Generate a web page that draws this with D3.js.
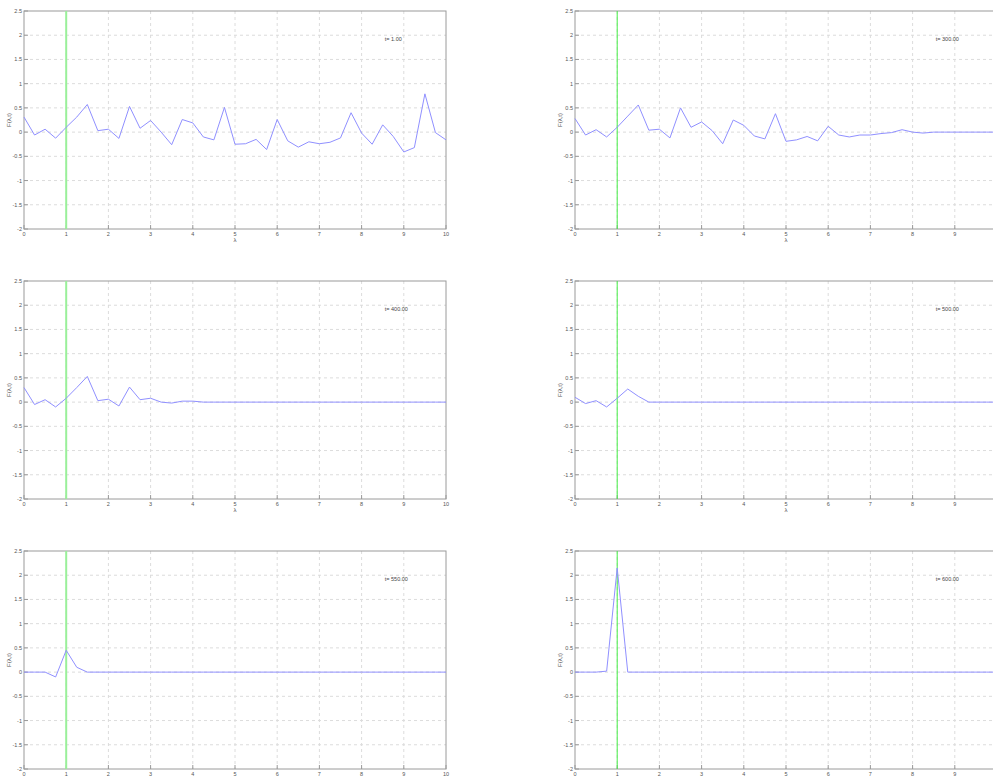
<!DOCTYPE html>
<html>
<head>
<meta charset="utf-8">
<script src="https://cdn.jsdelivr.net/npm/d3@7"></script>
<style>
  body { margin: 0; background: #fff; }
  svg { display: block; }
  text { font-family: "Liberation Sans", Arial, sans-serif; fill: #555; }
</style>
</head>
<body>
<div id="chart"></div>
<script>
var width = 993;
var height = 776;

// lambda grid of the solution (step 0.25)
const lambdas = [0, 0.25, 0.5, 0.75, 1, 1.25, 1.5, 1.75, 2, 2.25, 2.5, 2.75, 3, 3.25, 3.5, 3.75, 4, 4.25, 4.5, 4.75,
    5, 5.25, 5.5, 5.75, 6, 6.25, 6.5, 6.75, 7, 7.25, 7.5, 7.75, 8, 8.25, 8.5, 8.75, 9, 9.25, 9.5, 9.75, 10];

// F(lambda, t)
const f1 = [0.31, -0.06, 0.06, -0.125, 0.10, 0.31, 0.57, 0.03, 0.06, -0.13, 0.53, 0.08, 0.24, 0.0, -0.26, 0.26, 0.19, -0.10, -0.16, 0.51,
    -0.25, -0.24, -0.15, -0.36, 0.26, -0.18, -0.31, -0.20, -0.24, -0.21, -0.12, 0.40, -0.02, -0.25, 0.15, -0.09, -0.41, -0.32, 0.79, -0.01, -0.16];
const f300 = [0.28, -0.06, 0.05, -0.10, 0.10, 0.33, 0.56, 0.04, 0.06, -0.12, 0.50, 0.10, 0.21, 0.03, -0.24, 0.25, 0.14, -0.08, -0.14, 0.38,
    -0.19, -0.16, -0.09, -0.18, 0.12, -0.06, -0.10, -0.06, -0.06, -0.03, -0.01, 0.05, 0.0, -0.02, 0, 0, 0, 0, 0, 0, 0];
const f400 = [0.30, -0.05, 0.05, -0.10, 0.08, 0.30, 0.53, 0.03, 0.06, -0.08, 0.31, 0.05, 0.08, 0.0, -0.02, 0.02, 0.02, 0, 0, 0,
    0, 0, 0, 0, 0, 0, 0, 0, 0, 0, 0, 0, 0, 0, 0, 0, 0, 0, 0, 0, 0];
const f500 = [0.10, -0.03, 0.03, -0.10, 0.08, 0.27, 0.12, 0.0, 0, 0, 0, 0, 0, 0, 0, 0, 0, 0, 0, 0,
    0, 0, 0, 0, 0, 0, 0, 0, 0, 0, 0, 0, 0, 0, 0, 0, 0, 0, 0, 0, 0];
const f550 = [0, 0, 0, -0.10, 0.45, 0.10, 0, 0, 0, 0, 0, 0, 0, 0, 0, 0, 0, 0, 0, 0,
    0, 0, 0, 0, 0, 0, 0, 0, 0, 0, 0, 0, 0, 0, 0, 0, 0, 0, 0, 0, 0];
const f600 = [0, 0, 0, 0.02, 2.15, 0, 0, 0, 0, 0, 0, 0, 0, 0, 0, 0, 0, 0, 0, 0,
    0, 0, 0, 0, 0, 0, 0, 0, 0, 0, 0, 0, 0, 0, 0, 0, 0, 0, 0, 0, 0];

const timeLabels = ["t= 1.00", "t= 300.00", "t= 400.00", "t= 500.00", "t= 550.00", "t= 600.00"];
const xTicks = [0, 1, 2, 3, 4, 5, 6, 7, 8, 9, 10];
const yTicks = [2.5, 2, 1.5, 1, 0.5, 0, -0.5, -1, -1.5, -2];
const markerX = 1;   // green vertical line

var series = [f1, f300, f400, f500, f550, f600];

var svg = d3.select("#chart").append("svg")
    .attr("width", width)
    .attr("height", height);

// panel boxes: left column 24..446, right column 575..998 (cut by the window)
var colLeft = [24, 575];
var plotW = 422;
var rowTop = [11, 281, 551];
var plotH = 218;

series.forEach(function (vals, i) {
    var col = i % 2, row = Math.floor(i / 2);
    var left = colLeft[col], top = rowTop[row];

    var x = d3.scaleLinear().domain([0, 10]).range([0, plotW]);
    var y = d3.scaleLinear().domain([-2, 2.5]).range([plotH, 0]);

    var g = svg.append("g").attr("transform", "translate(" + left + "," + top + ")");

    // dashed grid
    g.selectAll(".vgrid").data(xTicks.slice(1, -1)).enter().append("line")
        .attr("x1", d => x(d)).attr("x2", d => x(d))
        .attr("y1", 0).attr("y2", plotH)
        .attr("stroke", "#dcdcdc").attr("stroke-width", 1)
        .attr("stroke-dasharray", "3,3");
    g.selectAll(".hgrid").data(yTicks.slice(1, -1)).enter().append("line")
        .attr("x1", 0).attr("x2", plotW)
        .attr("y1", d => y(d)).attr("y2", d => y(d))
        .attr("stroke", "#dcdcdc").attr("stroke-width", 1)
        .attr("stroke-dasharray", "3,3");

    // axes box
    g.append("rect")
        .attr("x", 0).attr("y", 0)
        .attr("width", plotW).attr("height", plotH)
        .attr("fill", "none").attr("stroke", "#9a9a9a").attr("stroke-width", 1);

    // inward ticks
    g.selectAll(".xt").data(xTicks).enter().append("line")
        .attr("x1", d => x(d)).attr("x2", d => x(d))
        .attr("y1", plotH).attr("y2", plotH - 4)
        .attr("stroke", "#9a9a9a");
    g.selectAll(".yt").data(yTicks).enter().append("line")
        .attr("x1", 0).attr("x2", 4)
        .attr("y1", d => y(d)).attr("y2", d => y(d))
        .attr("stroke", "#9a9a9a");

    // tick labels (the right column's "10" falls outside the window)
    var xLabelTicks = col == 0 ? xTicks : xTicks.slice(0, -1);
    g.selectAll(".xl").data(xLabelTicks).enter().append("text")
        .attr("x", d => x(d)).attr("y", plotH + 7)
        .attr("text-anchor", "middle")
        .style("font-size", "5.5px")
        .text(d => d);
    g.selectAll(".yl").data(yTicks).enter().append("text")
        .attr("x", -2).attr("y", d => y(d) + 2)
        .attr("text-anchor", "end")
        .style("font-size", "5.5px")
        .text(d => d);

    // axis labels (bottom row's x label falls below the window)
    if (row < 2) {
        g.append("text")
            .attr("x", x(5)).attr("y", plotH + 13)
            .attr("text-anchor", "middle")
            .style("font-size", "6px")
            .text("λ");
    }
    g.append("text")
        .attr("transform", "translate(-13," + y(0.25) + ") rotate(-90)")
        .attr("text-anchor", "middle")
        .style("font-size", "6px")
        .text("F(λ,t)");

    // green marker line
    g.append("line")
        .attr("x1", x(markerX)).attr("x2", x(markerX))
        .attr("y1", 0).attr("y2", plotH)
        .attr("stroke", col == 0 ? "#9af09a" : "#44ee44")
        .attr("stroke-width", col == 0 ? 2 : 1);

    // solution curve
    var line = d3.line()
        .x((d, j) => x(lambdas[j]))
        .y(d => y(d));
    g.append("path")
        .datum(vals)
        .attr("d", line)
        .attr("fill", "none")
        .attr("stroke", "#9090ff")
        .attr("stroke-width", 1);

    // time annotation
    g.append("text")
        .attr("x", x(8.55)).attr("y", y(1.88))
        .style("font-size", "5.5px")
        .style("fill", "#444")
        .text(timeLabels[i]);
});
</script>
</body>
</html>
